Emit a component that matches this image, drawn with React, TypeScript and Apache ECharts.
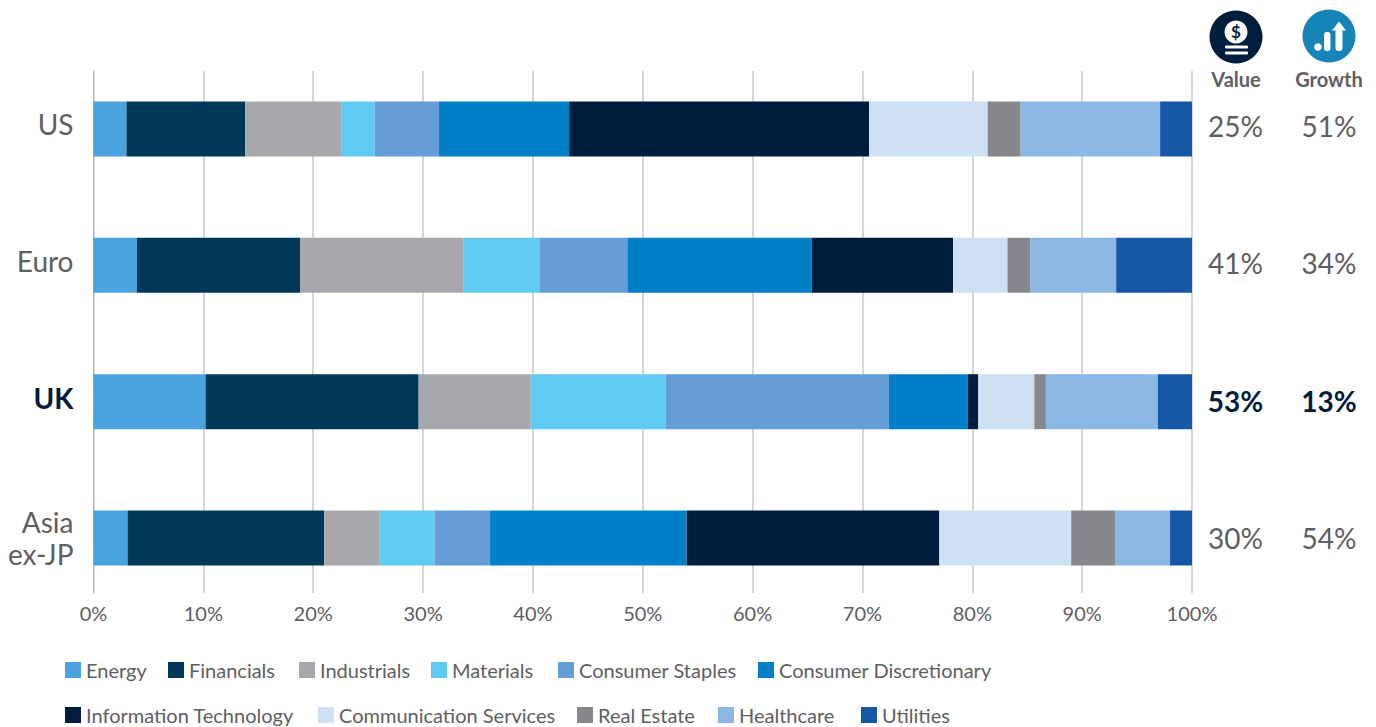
import React, { useEffect, useRef } from "react";
import * as echarts from "echarts";

const regions = ["US", "Euro", "UK", "Asia\nex-JP"];
const valueShares = ["25%", "41%", "53%", "30%"];
const growthShares = ["51%", "34%", "13%", "54%"];
const highlighted = "UK";

const sectors = [
  "Energy", "Financials", "Industrials", "Materials", "Consumer Staples", "Consumer Discretionary",
  "Information Technology", "Communication Services", "Real Estate", "Healthcare", "Utilities",
];

const sectorColors = [
  "#4AA3DF", "#00385A", "#A7A8AC", "#5FCBF2", "#659DD6", "#0180C8",
  "#001D3D", "#CEE1F3", "#87888C", "#8BB7E3", "#1657A8",
];

// One list per sector, in the order US, Euro, UK, Asia ex-JP
const energy = [3.0, 3.95, 10.2, 3.1];
const financials = [10.8, 14.85, 19.4, 17.9];
const industrials = [8.8, 14.9, 10.2, 5.0];
const materials = [3.0, 6.95, 12.3, 5.05];
const staples = [5.85, 7.95, 20.3, 5.05];
const discretionary = [11.85, 16.8, 7.2, 17.9];
const infoTech = [27.3, 12.85, 0.95, 23.0];
const commServices = [10.8, 4.95, 5.1, 12.0];
const realEstate = [3.0, 2.1, 1.05, 4.0];
const healthcare = [12.7, 7.8, 10.2, 5.0];
const utilities = [2.9, 6.9, 3.1, 2.0];
const sectorValues = [energy, financials, industrials, materials, staples, discretionary, infoTech, commServices, realEstate, healthcare, utilities];

const FONT = "Lato";
const GREY = "#5E5E62";
const NAVY = "#001D3D";

// Legend swatch positions: [left, top] in the order of sectors
const legendSlots = [
  [65, 660], [168, 660], [299, 660], [431, 660], [558, 660], [758, 660],
  [65, 705], [318, 705], [577, 705], [718, 705], [861, 705],
];

// The reference's row labels sit a little above their bars, by a different amount per row
const regionLift = [9, 8, 8, 0];
const shareLift = [6, 5, 2, 0];

function rowStyles(lifts: number[], fontSize: number, lineHeight?: number) {
  const rich: Record<string, any> = {};
  lifts.forEach((lift, i) => {
    const bold = i === regions.indexOf(highlighted);
    rich[`r${i}`] = {
      color: bold ? NAVY : GREY,
      fontWeight: bold ? "bold" : "normal",
      fontFamily: FONT,
      fontSize,
      lineHeight,
      padding: [0, 0, lift, 0],
    };
  });
  return rich;
}

export default function App() {
  const ref = useRef<HTMLDivElement>(null);
  useEffect(() => {
    document.body.style.margin = "0";
    const chart = echarts.init(ref.current!, null, { renderer: "svg" });
    const sideAxis = (labels: string[], margin: number) => ({
      type: "category" as const,
      gridIndex: 0,
      position: "right" as const,
      inverse: true,
      data: labels,
      axisLine: { show: false },
      axisTick: { show: false },
      axisLabel: {
        align: "center" as const,
        margin,
        formatter: (v: string, i: number) => `{r${i}|${v}}`,
        rich: rowStyles(shareLift, 28),
      },
    });
    chart.setOption({
      animation: false,
      backgroundColor: "#fff",
      legend: sectors.map((name, i) => ({
        left: legendSlots[i][0],
        top: legendSlots[i][1],
        itemWidth: 16,
        itemHeight: 16,
        padding: 0,
        icon: "rect",
        textStyle: { color: GREY, fontFamily: FONT, fontSize: 20 },
        data: [name],
      })),
      // Grid 0 holds the bars, grid 1 holds the shorter vertical rules and percent axis
      grid: [
        { left: 93.5, right: 184, top: 60.8, bottom: 120.8 },
        { left: 93.5, right: 184, top: 71, bottom: 134 },
      ],
      xAxis: [
        { type: "value", gridIndex: 0, min: 0, max: 100, show: false },
        {
          type: "value",
          gridIndex: 1,
          min: 0,
          max: 100,
          interval: 10,
          axisLine: { show: false },
          axisTick: { show: false },
          splitLine: { lineStyle: { color: "#C9C9CB", width: 1.5 } },
          axisLabel: {
            formatter: "{value}%",
            color: GREY,
            fontFamily: FONT,
            fontSize: 20,
            margin: 10,
          },
        },
      ],
      yAxis: [
        {
          type: "category",
          gridIndex: 0,
          inverse: true,
          data: regions,
          axisLine: { show: false },
          axisTick: { show: false },
          axisLabel: {
            margin: 20,
            formatter: (v: string, i: number) =>
              v.split("\n").map((line) => `{r${i}|${line}}`).join("\n"),
            rich: rowStyles(regionLift, 28, 32),
          },
        },
        sideAxis(valueShares, 43.5),
        sideAxis(growthShares, 137),
        {
          type: "category",
          gridIndex: 1,
          data: [],
          axisLine: { show: true, onZero: false, lineStyle: { color: "#B8B8BA", width: 1 } },
          axisTick: { show: false },
          axisLabel: { show: false },
        },
      ],
      series: sectors.map((name, i) => ({
        name,
        type: "bar",
        stack: "total",
        xAxisIndex: 0,
        yAxisIndex: 0,
        barWidth: 55,
        itemStyle: { color: sectorColors[i] },
        data: sectorValues[i],
      })),
      graphic: [
        { type: "text", x: 1236, y: 69, style: { text: "Value", fill: GREY, font: `bold 20px ${FONT}`, align: "center" } },
        { type: "text", x: 1329, y: 69, style: { text: "Growth", fill: GREY, font: `bold 20px ${FONT}`, align: "center" } },
        { type: "circle", shape: { cx: 1236, cy: 37, r: 26.5 }, style: { fill: NAVY } },
        { type: "circle", shape: { cx: 1236, cy: 32, r: 11.5 }, style: { fill: "#fff" } },
        { type: "text", x: 1236, y: 23, z: 10, style: { text: "$", fill: NAVY, font: `bold 17px ${FONT}`, align: "center" } },
        { type: "rect", shape: { x: 1225, y: 45.5, width: 23, height: 3, r: 1 }, style: { fill: "#fff" } },
        { type: "rect", shape: { x: 1225, y: 51.5, width: 23, height: 3, r: 1 }, style: { fill: "#fff" } },
        { type: "circle", shape: { cx: 1329, cy: 36, r: 26.5 }, style: { fill: "#1784B7" } },
        { type: "circle", shape: { cx: 1318, cy: 47, r: 3.8 }, style: { fill: "#fff" } },
        { type: "rect", shape: { x: 1324, y: 32, width: 6.5, height: 19, r: 3 }, style: { fill: "#fff" } },
        { type: "rect", shape: { x: 1335.5, y: 28, width: 7, height: 23, r: 3 }, style: { fill: "#fff" } },
        { type: "polygon", shape: { points: [[1339, 21.5], [1346, 30.5], [1332, 30.5]] }, style: { fill: "#fff" } },
      ],
    });
    return () => chart.dispose();
  }, []);
  return <div ref={ref} style={{ position: "absolute", left: 0, top: 0, width: 1376, height: 727, overflow: "hidden" }} />;
}
